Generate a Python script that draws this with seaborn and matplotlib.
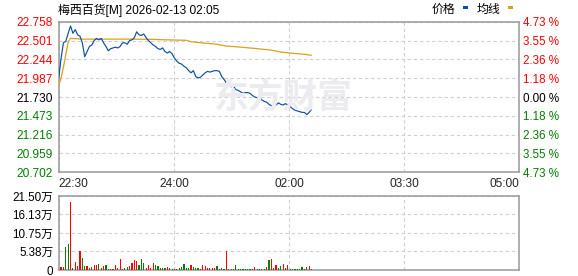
import numpy as np
import matplotlib
matplotlib.use("Agg")
import matplotlib.pyplot as plt
import seaborn as sns
from matplotlib.patches import Rectangle

# ---------------- data ----------------
title_text = "梅西百货[M] 2026-02-13 02:05"
prev_close = 21.730
price_ticks = [22.758, 22.501, 22.244, 21.987, 21.730, 21.473, 21.216, 20.959, 20.702]
price_tick_labels = ["22.758", "22.501", "22.244", "21.987", "21.730", "21.473", "21.216", "20.959", "20.702"]
pct_tick_labels = ["4.73 %", "3.55 %", "2.36 %", "1.18 %", "0.00 %", "1.18 %", "2.36 %", "3.55 %", "4.73 %"]
time_ticks = [0, 97.5, 195, 292.5, 390]
time_labels = ["22:30", "24:00", "02:00", "03:30", "05:00"]
vol_ticks = [0, 5.38, 10.75, 16.13, 21.50]
vol_tick_labels = ["0", "5.38万", "10.75万", "16.13万", "21.50万"]

# price every 2 minutes since 22:30
price = [21.99, 22.26, 22.47, 22.49, 22.60, 22.70, 22.60, 22.65, 22.58, 22.56,
         22.47, 22.28, 22.35, 22.42, 22.44, 22.50, 22.53, 22.51, 22.53, 22.47,
         22.42, 22.36, 22.39, 22.40, 22.41, 22.40, 22.42, 22.47, 22.47, 22.45,
         22.50, 22.51, 22.54, 22.62, 22.58, 22.57, 22.59, 22.54, 22.50, 22.47,
         22.44, 22.42, 22.39, 22.38, 22.40, 22.35, 22.33, 22.35, 22.32, 22.26,
         22.22, 22.19, 22.18, 22.15, 22.13, 22.09, 22.06, 22.09, 22.01, 21.99,
         22.00, 22.03, 22.06, 22.08, 22.07, 22.08, 22.09, 22.09, 22.08, 22.01,
         21.97, 21.92, 21.88, 21.87, 21.88, 21.83, 21.82, 21.80, 21.78, 21.79,
         21.79, 21.78, 21.75, 21.73, 21.72, 21.73, 21.69, 21.67, 21.66, 21.63,
         21.61, 21.63, 21.62, 21.65, 21.63, 21.62, 21.64, 21.62, 21.60, 21.57,
         21.55, 21.54, 21.53, 21.52, 21.52, 21.49, 21.52, 21.56]
minutes = np.arange(len(price)) * 2

avg_minutes = [0, 2, 4, 6, 8, 10, 20, 40, 60, 76, 92, 108, 112, 120, 132, 142,
               156, 168, 180, 188, 198, 208, 214]
avg_values = [21.88, 21.99, 22.14, 22.31, 22.48, 22.53, 22.52, 22.52, 22.52, 22.518,
              22.51, 22.504, 22.485, 22.47, 22.454, 22.426, 22.408, 22.39, 22.37,
              22.344, 22.327, 22.313, 22.30]

# volume (万) every 2 minutes, direction r=up g=down
volume = [9.7, 1.0, 1.0, 6.8, 7.7, 19.8, 0.5, 2.4, 1.3, 5.5,
          3.6, 1.2, 1.2, 0.5, 0.8, 1.5, 1.4, 1.7, 0.5, 1.2,
          1.5, 0.4, 0.3, 0.3, 1.5, 0.7, 3.2, 0.3, 0.5, 1.0,
          1.3, 1.9, 2.9, 2.6, 1.5, 3.2, 1.9, 0.7, 1.5, 0.5,
          1.9, 1.5, 1.2, 0.5, 0.7, 0.5, 1.0, 0.5, 0.3, 0.3,
          0.3, 0.5, 1.0, 1.7, 0.5, 0.7, 1.5, 1.0, 0.7, 0.5,
          0.3, 1.6, 1.3, 0.7, 0.5, 0.7, 0.5, 1.3, 0.3, 0.5,
          0.3, 5.5, 0.3, 0.3, 0.3, 1.5, 0.3, 0.3, 0.3, 0.3,
          0.3, 0.3, 0.3, 1.0, 0.3, 0.3, 0.3, 0.3, 1.0, 2.9,
          3.2, 0.5, 1.5, 0.7, 1.3, 1.7, 0.7, 1.5, 0.3, 0.3,
          0.3, 0.3, 0.3, 1.0, 0.3, 1.0, 1.3, 0.3]
direction = list("rrrggrgrrr" "ggrgrrrgrr" "grrgrrrrgg" "rrrrgggrrr"
                 "rggrggrrgr" "ggggggrggg" "rrrrrrrggr" "grggrggggg"
                 "ggrrggggrg" "rrrggrgrgg" "ggggrgrr")

# ---------------- style ----------------
sns.set_style("white")
plt.rcParams["font.family"] = ["Liberation Sans", "Noto Sans CJK SC", "DejaVu Sans"]

RED = "#ff0000"
GREEN = "#008000"
BLUE_LINE = "#0b4fa2"
GOLD = "#dca01c"
GRID = "#cfcfcf"
SPINE = "#999999"

fig = plt.figure(figsize=(5.78, 2.76), dpi=100)
ax = fig.add_axes([0.1016, 0.3757, 0.7969, 0.5457])
axv = fig.add_axes([0.1016, 0.0217, 0.7969, 0.2681])

# watermark
fig.text(0.49, 0.65, "东方财富", fontsize=25, fontweight="bold", color="#ebebf0",
         ha="center", va="center", family=["Noto Sans CJK SC"], zorder=0)

sns.lineplot(x=avg_minutes, y=avg_values, ax=ax, color=GOLD, lw=0.9, zorder=3)
sns.lineplot(x=minutes, y=price, ax=ax, color=BLUE_LINE, lw=0.85, zorder=4)

ax.set_xlim(time_ticks[0], time_ticks[-1])
ax.set_ylim(price_ticks[-1], price_ticks[0])
ax.set_xlabel("")
ax.set_ylabel("")
ax.set_yticks(price_ticks)
ax.set_yticklabels(price_tick_labels)
ax.set_xticks(time_ticks)
ax.set_xticklabels(time_labels)
ax.tick_params(axis="both", length=0, labelsize=8.6)
ax.tick_params(axis="y", pad=4)
ax.tick_params(axis="x", pad=4)
xt = ax.get_xticklabels()
xt[0].set_ha("left")
xt[-1].set_ha("right")
ax.patch.set_alpha(0)


def level_color(v):
    if abs(v - prev_close) < 1e-6:
        return "#000000"
    return RED if v > prev_close else GREEN


for lab, v in zip(ax.get_yticklabels(), price_ticks):
    lab.set_color(level_color(v))

ax.grid(True, color=GRID, ls=(0, (3, 2.5)), lw=0.8)
for s in ax.spines.values():
    s.set_color(SPINE)
    s.set_linewidth(1.1)

axr = ax.twinx()
axr.set_ylim(ax.get_ylim())
axr.set_yticks(price_ticks)
axr.set_yticklabels(pct_tick_labels)
axr.tick_params(axis="y", length=0, labelsize=8.4, pad=3)
for lab, v in zip(axr.get_yticklabels(), price_ticks):
    lab.set_color(level_color(v))
for s in axr.spines.values():
    s.set_visible(False)
axr.grid(False)

# volume panel
bar_colors = [RED if d == "r" else GREEN for d in direction]
axv.bar(minutes, volume, width=1.0, color=bar_colors, linewidth=0, zorder=3)
axv.set_xlim(time_ticks[0], time_ticks[-1])
axv.set_ylim(vol_ticks[0], vol_ticks[-1])
axv.set_yticks(vol_ticks)
axv.set_yticklabels(vol_tick_labels)
axv.set_xticks(time_ticks)
axv.set_xticklabels([])
axv.tick_params(axis="both", length=0, labelsize=8.4)
axv.tick_params(axis="y", pad=4)
axv.grid(True, color=GRID, ls=(0, (3, 2.5)), lw=0.8)
for s in axv.spines.values():
    s.set_color(SPINE)
    s.set_linewidth(1.1)
for lab in axv.get_yticklabels():
    lab.set_color("#000000")

# title and legend
fig.text(0.1005, 0.963, title_text, fontsize=8.6, color="#000000", ha="left", va="center")
fig.text(0.746, 0.963, "价格", fontsize=8.6, color="#000000", ha="left", va="center")
fig.add_artist(Rectangle((0.801, 0.968), 0.0087, 0.009, transform=fig.transFigure,
                         color=BLUE_LINE, lw=0))
fig.text(0.825, 0.963, "均线", fontsize=8.6, color="#000000", ha="left", va="center")
fig.add_artist(Rectangle((0.879, 0.968), 0.0087, 0.009, transform=fig.transFigure,
                         color=GOLD, lw=0))

fig.savefig("out.png", dpi=100)
